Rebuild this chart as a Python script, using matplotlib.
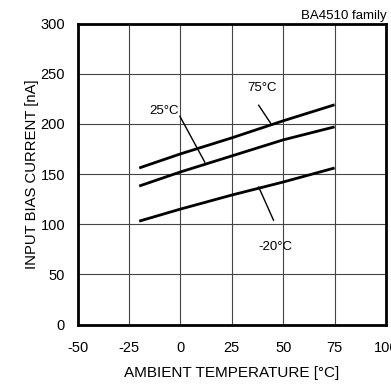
import matplotlib
matplotlib.use("Agg")
import matplotlib.pyplot as plt

# input bias current vs ambient temperature
temp = [-20, 0, 25, 50, 75]
ib_75 = [156, 170, 186, 203, 219]
ib_25 = [138, 152, 168, 184, 197]
ib_m20 = [103, 115, 129, 142, 156]

xticks = [-50, -25, 0, 25, 50, 75, 100]
yticks = [0, 50, 100, 150, 200, 250, 300]

plt.rcParams['font.family'] = ['Liberation Sans', 'DejaVu Sans']
plt.rcParams['axes.unicode_minus'] = False

fig = plt.figure(figsize=(3.91, 3.85), dpi=100)
ax = fig.add_axes([77.5 / 391, 1 - 324.5 / 385, (386 - 77.5) / 391, (324.5 - 23.5) / 385])

for y in (ib_75, ib_25, ib_m20):
    ax.plot(temp, y, color='black', lw=2.0, solid_capstyle='butt', zorder=3)

ax.set_xlim(-50, 100)
ax.set_ylim(0, 300)
ax.set_xticks(xticks)
ax.set_yticks(yticks)
ax.grid(True, color='#444444', lw=0.8)
ax.tick_params(length=0, labelsize=10.5, pad=9)
ax.tick_params(axis='x', pad=12)
for s in ax.spines.values():
    s.set_linewidth(2.0)
    s.set_zorder(4)

ax.set_xlabel('AMBIENT TEMPERATURE [°C]', fontsize=11, labelpad=8)
ax.set_ylabel('INPUT BIAS CURRENT [nA]', fontsize=10.7, labelpad=1)

# curve labels with leader lines
ax.text(39.5, 236, '75°C', fontsize=9.5, ha='center', va='center')
ax.plot([38.1, 43.9], [218.5, 200.6], color='black', lw=1.0)
ax.text(-8, 213, '25°C', fontsize=9.5, ha='center', va='center')
ax.plot([-0.2, 11.9], [207.5, 161.8], color='black', lw=1.0)
ax.text(46, 77, '-20°C', fontsize=9.5, ha='center', va='center')
ax.plot([38.1, 45.3], [137, 104], color='black', lw=1.0)

fig.text(387 / 391, 1 - 19 / 385, 'BA4510 family', fontsize=9.5, ha='right', va='baseline')

fig.savefig('out.png', dpi=100)
